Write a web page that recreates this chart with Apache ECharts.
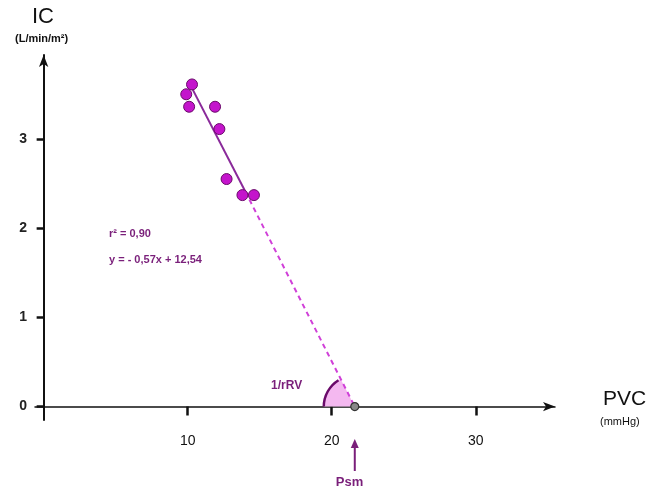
<!DOCTYPE html>
<html><head><meta charset="utf-8">
<script src="https://cdn.jsdelivr.net/npm/echarts@6/dist/echarts.min.js"></script>
<style>html,body{margin:0;padding:0;background:#fff}#c{width:666px;height:494px}</style>
</head><body><div id="c"></div>
<script>
// Data
const pointsX = [10.3, 9.9, 10.1, 11.9, 12.2, 12.7, 13.8, 14.6];
const pointsY = [3.61, 3.50, 3.36, 3.36, 3.11, 2.55, 2.37, 2.37];
const fitSolidX = [10.1, 14.0];
const fitSolidY = [3.63, 2.41];
const fitDashX = [14.0, 21.6];
const fitDashY = [2.41, 0];
const psmX = [21.6];
const psmY = [0];
const xTicks = [10, 20, 30];
const yTicks = [0, 1, 2, 3];
const annot1 = 'r² = 0,90';
const annot2 = 'y = - 0,57x + 12,54';

const purple = '#7a1f7a';
const chart = echarts.init(document.getElementById('c'));
const zip = (a, b) => a.map((v, i) => [v, b[i]]);
const font = 'Liberation Sans, Arial, sans-serif';

chart.setOption({
  animation: false,
  grid: { left: 35, right: 111, top: 55, bottom: 74 },
  xAxis: {
    type: 'value', min: -0.6, max: 35.5,
    splitLine: { show: false },
    axisLine: { onZero: true, lineStyle: { color: '#111', width: 1.5 }, symbol: ['none', 'arrow'], symbolSize: [7, 12] },
    axisTick: { customValues: xTicks, length: 9, lineStyle: { color: '#111', width: 2.5 } },
    axisLabel: { customValues: xTicks, color: '#111', fontSize: 14, fontFamily: font, margin: 14 }
  },
  yAxis: {
    type: 'value', min: -0.15, max: 3.94,
    splitLine: { show: false },
    axisLine: { onZero: true, lineStyle: { color: '#111', width: 2 }, symbol: ['none', 'arrow'], symbolSize: [7, 12] },
    axisTick: { customValues: yTicks, length: 7, lineStyle: { color: '#111', width: 2.5 } },
    axisLabel: { customValues: yTicks, color: '#222', fontSize: 14, fontWeight: 'bold', fontFamily: font, margin: 8 }
  },
  series: [
    { type: 'line', data: zip(fitSolidX, fitSolidY), symbol: 'none', z: 3,
      lineStyle: { color: '#8a2a9a', width: 2 } },
    { type: 'line', data: zip(fitDashX, fitDashY), symbol: 'none', z: 3,
      lineStyle: { color: '#d040d8', width: 2, type: [5, 4] } },
    { type: 'scatter', data: zip(pointsX, pointsY), symbolSize: 11, z: 5,
      itemStyle: { color: '#c414cc', borderColor: '#6a0a6a', borderWidth: 1, opacity: 1 } },
    { type: 'scatter', data: zip(psmX, psmY), symbolSize: 8, z: 6,
      itemStyle: { color: '#888', borderColor: '#333', borderWidth: 1.2, opacity: 1 } }
  ]
});

const c0 = chart.convertToPixel({ gridIndex: 0 }, [psmX[0], psmY[0]]);
const pTop = chart.convertToPixel({ gridIndex: 0 }, [fitSolidX[0], fitSolidY[0]]);
const ang = Math.atan2(pTop[1] - c0[1], pTop[0] - c0[0]); // canvas angle
const endA = ang < 0 ? ang + 2 * Math.PI : ang;
const r = 31;

chart.setOption({
  graphic: [
    { type: 'sector', z: 1, shape: { cx: c0[0], cy: c0[1], r: r, r0: 0, startAngle: Math.PI, endAngle: endA, clockwise: true },
      style: { fill: '#f4b8f0' } },
    { type: 'arc', z: 2, shape: { cx: c0[0], cy: c0[1], r: r, startAngle: Math.PI, endAngle: endA - 0.08, clockwise: true },
      style: { stroke: '#6a0a6a', lineWidth: 2.5, fill: null } },
    { type: 'text', left: 271, top: 380, style: { text: '1/rRV', fill: purple, font: 'bold 12px ' + font } },
    { type: 'line', shape: { x1: c0[0], y1: 471, x2: c0[0], y2: 446 }, style: { stroke: purple, lineWidth: 2 } },
    { type: 'polygon', shape: { points: [[c0[0] - 4, 448], [c0[0] + 4, 448], [c0[0], 439]] }, style: { fill: purple } },
    { type: 'text', left: c0[0] - 19, top: 476, style: { text: 'Psm', fill: purple, font: 'bold 13px ' + font } },
    { type: 'text', left: 109, top: 228, style: { text: annot1, fill: purple, font: 'bold 11px ' + font } },
    { type: 'text', left: 109, top: 254, style: { text: annot2, fill: purple, font: 'bold 11px ' + font } },
    { type: 'text', left: 32, top: 6, style: { text: 'IC', fill: '#111', font: '22px ' + font } },
    { type: 'text', left: 15, top: 33, style: { text: '(L/min/m²)', fill: '#111', font: 'bold 11px ' + font } },
    { type: 'text', left: 603, top: 389, style: { text: 'PVC', fill: '#111', font: '21px ' + font } },
    { type: 'text', left: 600, top: 416, style: { text: '(mmHg)', fill: '#111', font: '11px ' + font } }
  ]
});
</script></body></html>
